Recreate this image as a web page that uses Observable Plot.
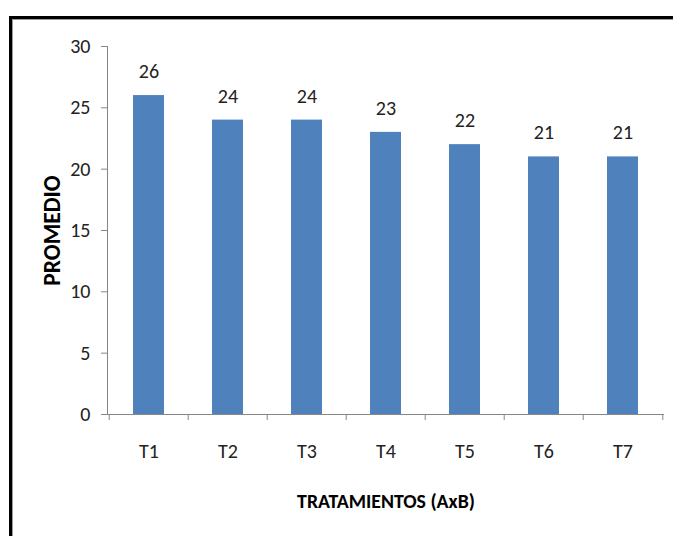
<!DOCTYPE html>
<html>
<head>
<meta charset="utf-8">
<script src="https://cdn.jsdelivr.net/npm/d3@7"></script>
<script src="https://cdn.jsdelivr.net/npm/@observablehq/plot@0.6"></script>
<style>
  html, body { margin: 0; padding: 0; background: #fff; }
  #wrap { position: relative; width: 673px; height: 536px; overflow: hidden; }
  #frame { position: absolute; left: 9px; top: 16px; width: 700px; height: 600px;
           border-left: 3px solid #000; border-top: 3px solid #000;
           box-shadow: inset 1px 1px 0 #999; pointer-events: none; }
  svg { font-family: Carlito, Lato, sans-serif; }
</style>
</head>
<body>
<div id="wrap"><div id="frame"></div></div>
<script>
const categories = ["T1", "T2", "T3", "T4", "T5", "T6", "T7"];
const values = [26, 24, 24, 23, 22, 21, 21];
const yTicks = [0, 5, 10, 15, 20, 25, 30];
const xTitle = "TRATAMIENTOS (AxB)";
const yTitle = "PROMEDIO";

const data = categories.map((c, i) => ({cat: c, value: values[i]}));

const W = 673, H = 536, ML = 107, MR = 9, MT = 46, MB = 122;
const step = (W - ML - MR) / categories.length;
const pxPerUnit = (H - MT - MB) / 30;
const tickLen = 6 / pxPerUnit;

const chart = Plot.plot({
  width: W,
  height: H,
  marginLeft: ML,
  marginRight: MR,
  marginTop: MT,
  marginBottom: MB,
  style: {fontSize: "20px", color: "#222", background: "transparent", overflow: "visible"},
  x: {domain: categories, paddingInner: 0.61, paddingOuter: 0.305, label: null},
  y: {domain: [0, 30], label: null},
  marks: [
    Plot.barY(data, {x: "cat", y: "value", fill: "#4F81BD"}),
    Plot.text(data, {x: "cat", y: "value", text: d => String(d.value), dy: -24, fill: "#222", fontSize: 20}),
    // y axis
    Plot.axisY({ticks: yTicks, tickSize: 6, tickPadding: 11, stroke: "#868686", fill: "#222", fontSize: 20}),
    Plot.frame({anchor: "left", stroke: "#868686"}),
    Plot.ruleY([0], {stroke: "#868686"}),
    // category boundary ticks
    Plot.ruleX(categories, {x: d => d, y1: 0, y2: -tickLen, dx: -step / 2, stroke: "#868686"}),
    Plot.ruleX([categories[categories.length - 1]], {x: d => d, y1: 0, y2: -tickLen, dx: step / 2, stroke: "#868686"}),
    Plot.axisX({tickSize: 0, tickPadding: 29, fill: "#222", fontSize: 20}),
    // titles
    Plot.text([xTitle], {frameAnchor: "bottom", lineAnchor: "middle", dy: 87, text: d => d, fontWeight: "bold", fontSize: 19.8, fill: "#000"}),
    Plot.text([yTitle], {frameAnchor: "left", textAnchor: "middle", lineAnchor: "middle", dx: -55, rotate: -90, text: d => d, fontWeight: "bold", fontSize: 23.5, fill: "#000"})
  ]
});
document.getElementById("wrap").prepend(chart);
</script>
</body>
</html>
